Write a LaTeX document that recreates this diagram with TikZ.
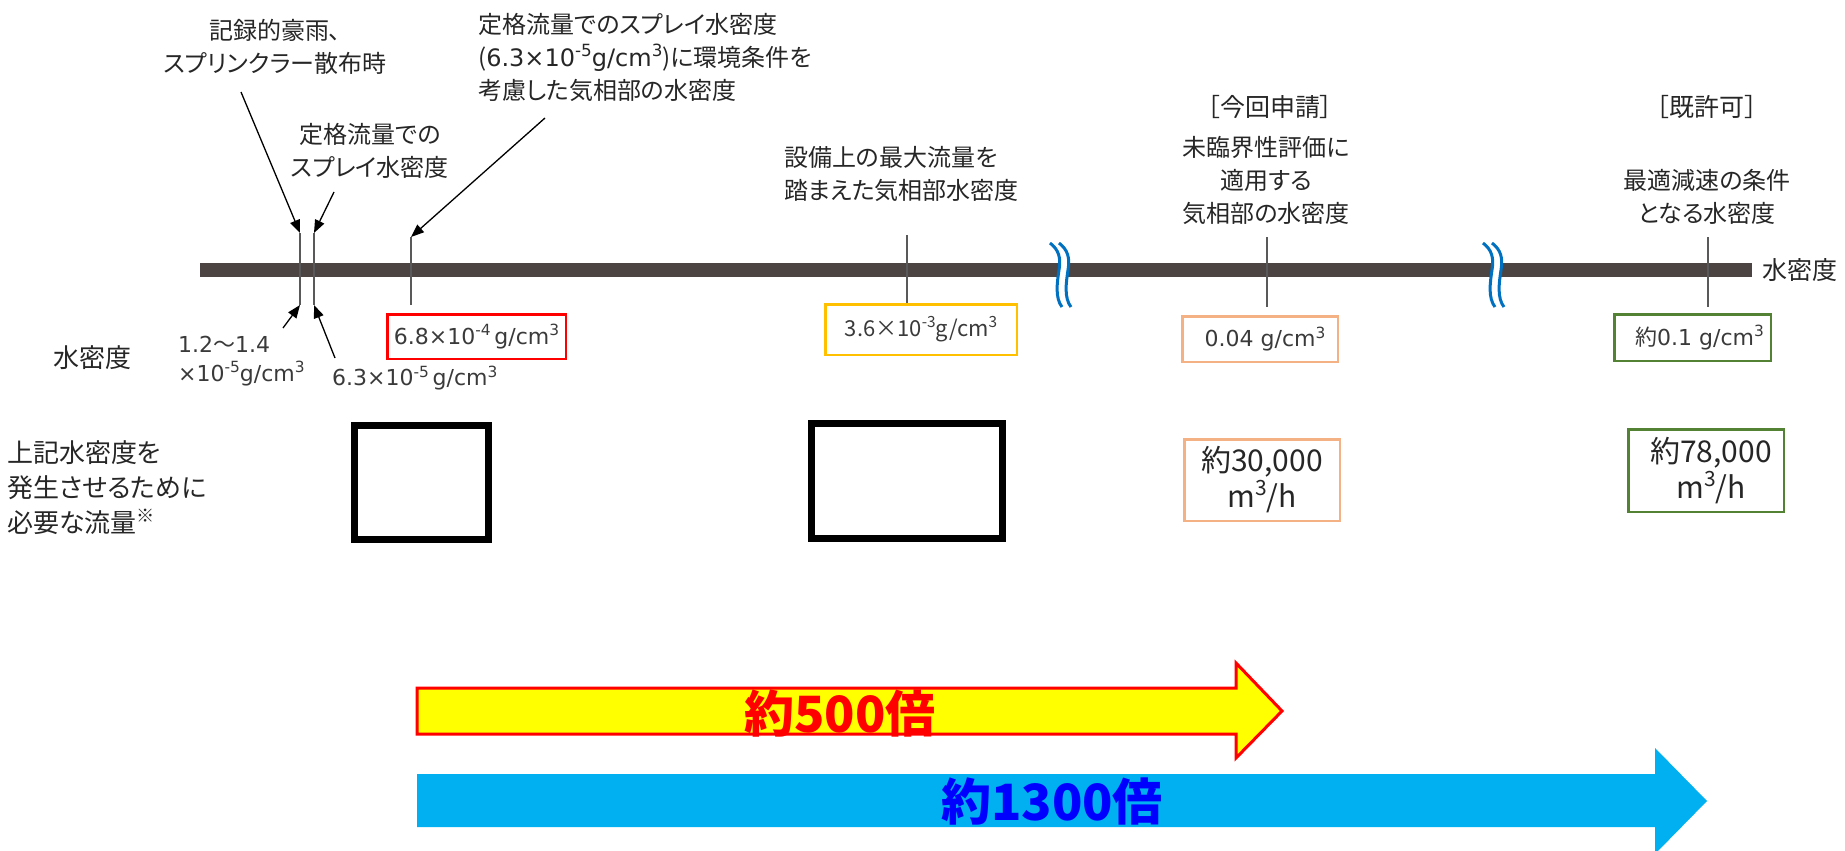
\documentclass[tikz,border=0pt]{standalone}
\usepackage{fontspec}
\usepackage{graphicx}
\setmainfont{Noto Sans CJK JP}[RawFeature=+palt]
\newfontfamily\dv{DejaVu Sans}
\newfontfamily\jpf{Noto Sans CJK JP}
\usetikzlibrary{arrows.meta}
\definecolor{barc}{HTML}{4B4442}
\definecolor{txt}{HTML}{262626}
\definecolor{numc}{HTML}{3A3A3A}
\definecolor{tickc}{HTML}{595959}
\definecolor{wavec}{HTML}{0070C0}
\definecolor{redc}{HTML}{FF0000}
\definecolor{yelbox}{HTML}{FFC000}
\definecolor{orbox}{HTML}{F4B183}
\definecolor{grbox}{HTML}{548235}
\definecolor{yelfill}{HTML}{FFFF00}
\definecolor{bluefill}{HTML}{00B0F0}
\definecolor{bluetxt}{HTML}{0000FF}
\newcommand\supx[1]{\raisebox{0.40em}{\scalebox{0.7}{#1}}}
\begin{document}
\begin{tikzpicture}[x=1pt,y=-1pt,
  jp/.style={font=\fontsize{24}{33}\selectfont, text=txt, inner sep=0pt},
  jpl/.style={font=\fontsize{26}{35}\selectfont, text=txt, inner sep=0pt},
  num/.style={font=\dv\fontsize{22}{29}\selectfont, text=numc, inner sep=0pt},
  valbox/.style={draw, line width=2.5pt, inner sep=0pt, font=\dv\fontsize{22}{29}\selectfont, text=numc},
  flowbox/.style={draw, line width=2.5pt, inner sep=0pt, align=center, font=\fontsize{30}{36}\selectfont, text=txt},
  bigbox/.style={draw=black, line width=7pt, inner sep=0pt},
  tickl/.style={draw=tickc, line width=1.5pt},
  ptr/.style={draw=black, line width=1.3pt, -{Triangle[length=13pt,width=10pt]}},
  wave/.style={draw=wavec, line width=3pt},
  bigtxt/.style={font=\bfseries\fontsize{50}{50}\selectfont, inner sep=0pt}
]
\useasboundingbox (0,0) rectangle (1845,851);

% axis bar
\fill[barc] (200,263) rectangle (1752,277);
\node[jp, anchor=west, font=\fontsize{25}{33}\selectfont] (axl) at (1762,270) {水密度};

% wave breaks
\foreach \wx in {1050,1483}{
\begin{scope}[xshift=\wx pt]
\draw[white, line width=8pt] (4.5,250) .. controls (13.5,256) and (15.5,262) .. (13.5,272) .. controls (11.5,284) and (9.5,294) .. (16.5,301);
\draw[wave] (0,243) .. controls (9,250) and (11,258) .. (9,270) .. controls (7,283) and (5,298) .. (12,307);
\draw[wave] (9,243) .. controls (18,250) and (20,258) .. (18,270) .. controls (16,283) and (14,298) .. (21,307);
\end{scope}}

% ticks
\coordinate (k1t) at (300,233); \coordinate (k1b) at (300,305);
\coordinate (k2t) at (314,233); \coordinate (k2b) at (314,305);
\coordinate (k3t) at (411,237); \coordinate (k3b) at (411,305);
\coordinate (k4t) at (907,235); \coordinate (k4b) at (907,303);
\coordinate (k5t) at (1267,237); \coordinate (k5b) at (1267,307);
\coordinate (k6t) at (1708,237); \coordinate (k6b) at (1708,307);
\foreach \k in {1,...,6}{\draw[tickl] (k\k t) -- (k\k b);}

% upper labels
\node[jp, align=center] (t1) at (275,47) {記録的豪雨、\\スプリンクラー散布時};
\node[jp, align=center] (t2) at (370,151) {定格流量での\\スプレイ水密度};
\node[jp, align=left, anchor=west] (t3) at (478,57.5) {定格流量でのスプレイ水密度\\({\dv 6.3×10\supx{-5}g/cm\supx{3}})に環境条件を\\考慮した気相部の水密度};
\node[jp, align=left, anchor=west] (t4) at (784,174) {設備上の最大流量を\\踏まえた気相部水密度};
\node[jp, font=\fontsize{25}{33}\selectfont] (t5) at (1270,107) {［今回申請］};
\node[jp, align=center] (t6) at (1266,180) {未臨界性評価に\\適用する\\気相部の水密度};
\node[jp, font=\fontsize{25}{33}\selectfont] (t7) at (1707,107) {［既許可］};
\node[jp, align=center] (t8) at (1707,197) {最適減速の条件\\となる水密度};

% pointer arrows
\coordinate (a1s) at (241,92);
\coordinate (a2s) at (334,192);
\coordinate (a3s) at (545,118);
\coordinate (a4s) at (283,328);
\coordinate (a5s) at (335,358);
\draw[ptr] (a1s) -- (k1t);
\draw[ptr] (a2s) -- (k2t);
\draw[ptr] (a3s) -- (k3t);
\draw[ptr] (a4s) -- (k1b);
\draw[ptr] (a5s) -- (k2b);

% row labels
\node[jpl] (r1) at (92,358) {水密度};
\node[jpl, align=left, anchor=west] (r2) at (7,488) {上記水密度を\\発生させるために\\必要な流量\supx{※}};

% lower density labels
\node[num, align=left, anchor=west] (n1) at (178,361) {1.2{\jpf 〜}1.4\\×10\supx{-5}g/cm\supx{3}};
\node[num, anchor=west] (n2) at (332,378) {6.3×10\supx{-5}\,g/cm\supx{3}};

% value boxes
\node[valbox, draw=redc, minimum width=178.5pt, minimum height=44.5pt] (b1) at (476.5,336.5) {6.8×10\supx{-4}\,g/cm\supx{3}};
\node[valbox, draw=yelbox, minimum width=191.5pt, minimum height=50.5pt, font=\jpf\fontsize{22}{29}\selectfont] (b2) at (921,329.5) {3.6×10\supx{-3}g/cm\supx{3}};
\node[valbox, draw=orbox, minimum width=155.5pt, minimum height=45.5pt] (b3) at (1260,339) {\hspace*{10pt}0.04 g/cm\supx{3}};
\node[valbox, draw=grbox, minimum width=156.5pt, minimum height=46.5pt] (b4) at (1692.5,337.5) {\hspace*{14pt}{\jpf 約}0.1 g/cm\supx{3}};

% flow boxes
\node[bigbox, minimum width=134pt, minimum height=114pt] (f1) at (421.5,482.5) {};
\node[bigbox, minimum width=191pt, minimum height=115pt] (f2) at (907,481) {};
\node[flowbox, draw=orbox, minimum width=155.5pt, minimum height=81.5pt] (f3) at (1262,480) {約30,000\\m\supx{3}/h};
\node[flowbox, draw=grbox, minimum width=155.5pt, minimum height=82.5pt] (f4) at (1706,470.5) {\hspace*{10pt}約78,000\\\hspace*{10pt}m\supx{3}/h};

% big ratio arrows
\filldraw[fill=yelfill, draw=redc, line width=3pt, line join=miter]
  (417,688) -- (1236,688) -- (1236,663) -- (1282,711) -- (1236,758) -- (1236,734) -- (417,734) -- cycle;
\node[bigtxt, text=redc] (x1) at (840,713) {約500倍};
\fill[bluefill] (417,774) -- (1655,774) -- (1655,748) -- (1707,801) -- (1655,854) -- (1655,827) -- (417,827) -- cycle;
\node[bigtxt, text=bluetxt] (x2) at (1052,801) {約1300倍};
\end{tikzpicture}
\end{document}
